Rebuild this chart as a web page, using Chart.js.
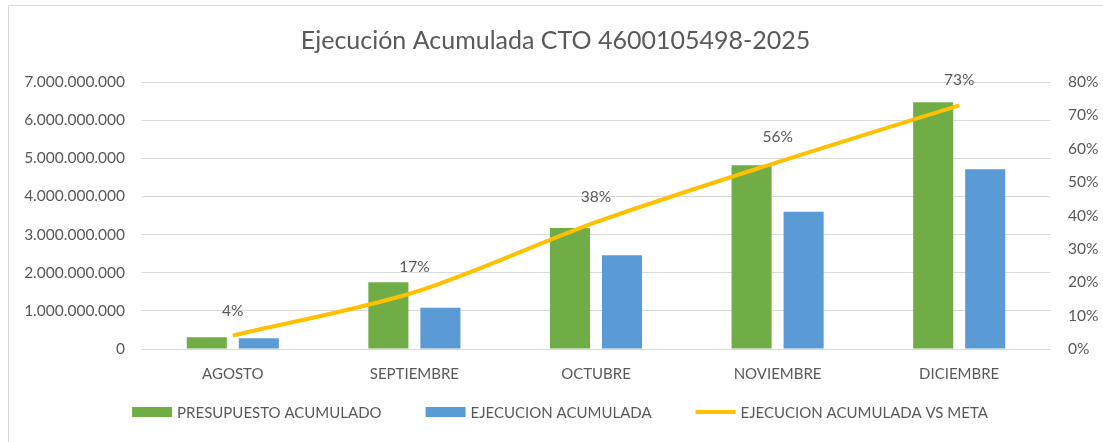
<!DOCTYPE html>
<html>
<head>
<meta charset="utf-8">
<script src="https://cdn.jsdelivr.net/npm/chart.js@4/dist/chart.umd.min.js"></script>
<style>
html,body{margin:0;padding:0;background:#fff;}
#wrap{position:relative;width:1103px;height:442px;}
#frame{position:absolute;left:8px;top:5px;width:1100px;height:440px;border-left:1px solid #d9d9d9;border-top:1px solid #d9d9d9;box-sizing:border-box;pointer-events:none;}
canvas{position:absolute;left:0;top:0;}
</style>
</head>
<body>
<div id="wrap">
<canvas id="c" width="1103" height="442"></canvas>
<div id="frame"></div>
</div>
<script>
const categories = ['AGOSTO','SEPTIEMBRE','OCTUBRE','NOVIEMBRE','DICIEMBRE'];
const presupuestoAcumulado = [310000000, 1750000000, 3170000000, 4820000000, 6470000000];
const ejecucionAcumulada = [280000000, 1080000000, 2460000000, 3600000000, 4710000000];
const ejecucionVsMeta = [0.04, 0.17, 0.38, 0.56, 0.73];
const seriesNames = ['PRESUPUESTO ACUMULADO','EJECUCION ACUMULADA','EJECUCION ACUMULADA VS META'];
const titleText = 'Ejecución Acumulada CTO 4600105498-2025';

const FONT = 'Lato, "Open Sans", sans-serif';
const GREY = '#595959';

function fmtDots(v){
  return Math.round(v).toString().replace(/\B(?=(\d{3})+(?!\d))/g,'.');
}

const dataLabels = {
  id:'dataLabels',
  afterDatasetsDraw(chart){
    const ctx = chart.ctx;
    const meta = chart.getDatasetMeta(2);
    ctx.save();
    ctx.font = '15.5px ' + FONT;
    ctx.fillStyle = GREY;
    ctx.textAlign = 'center';
    ctx.textBaseline = 'middle';
    meta.data.forEach((pt,i)=>{
      ctx.fillText(Math.round(ejecucionVsMeta[i]*100)+'%', pt.x, pt.y - 25);
    });
    ctx.restore();
  }
};

const customLegend = {
  id:'customLegend',
  afterDraw(chart){
    const ctx = chart.ctx;
    ctx.save();
    ctx.font = '15px ' + FONT;
    ctx.textBaseline = 'middle';
    const boxW = 40, gap = 5, spacing = 44;
    const ds = chart.data.datasets;
    const widths = ds.map(d => boxW + gap + ctx.measureText(d.label).width);
    const total = widths.reduce((a,b)=>a+b,0) + spacing*(ds.length-1);
    let x = 560 - total/2;
    const y = 412;
    ds.forEach((d,i)=>{
      if (d.type === 'line'){
        ctx.strokeStyle = d.borderColor;
        ctx.lineWidth = 4;
        ctx.beginPath();
        ctx.moveTo(x, y); ctx.lineTo(x+boxW, y);
        ctx.stroke();
      } else {
        ctx.fillStyle = d.backgroundColor;
        ctx.fillRect(x, y-5, boxW, 10);
      }
      ctx.fillStyle = GREY;
      ctx.textAlign = 'left';
      ctx.fillText(d.label, x+boxW+gap, y+1);
      x += widths[i] + spacing;
    });
    ctx.restore();
  }
};

new Chart(document.getElementById('c'), {
  data:{
    labels: categories,
    datasets:[
      {type:'bar', label:seriesNames[0], data:presupuestoAcumulado, backgroundColor:'#70AD47', borderWidth:0, yAxisID:'y', order:2,
       categoryPercentage:0.573, barPercentage:0.77},
      {type:'bar', label:seriesNames[1], data:ejecucionAcumulada, backgroundColor:'#5B9BD5', borderWidth:0, yAxisID:'y', order:2,
       categoryPercentage:0.573, barPercentage:0.77},
      {type:'line', label:seriesNames[2], data:ejecucionVsMeta, borderColor:'#FFC000', backgroundColor:'#FFC000', borderWidth:4,
       pointRadius:0, tension:0.3, yAxisID:'y1', order:1}
    ]
  },
  options:{
    responsive:false,
    animation:false,
    layout:{padding:{top:10,left:8,right:0,bottom:52}},
    plugins:{
      legend:{display:false},
      tooltip:{enabled:false},
      title:{display:true, text:titleText, color:GREY, font:{family:FONT, size:25, weight:'normal'}, padding:{top:16,bottom:26}}
    },
    scales:{
      x:{
        grid:{display:false, drawTicks:false},
        border:{display:false},
        ticks:{color:GREY, font:{family:FONT,size:15}, padding:16},
        afterFit(s){ s.height = 41; }
      },
      y:{
        position:'left', min:0, max:7000000000,
        grid:{color:'#d9d9d9', lineWidth:1, drawTicks:false},
        border:{display:false},
        ticks:{stepSize:1000000000, color:GREY, font:{family:FONT,size:15.5}, padding:17, callback:v=>fmtDots(v)},
        afterFit(s){ s.width = 134; }
      },
      y1:{
        position:'right', min:0, max:0.8,
        grid:{display:false, drawTicks:false},
        border:{display:false},
        ticks:{stepSize:0.1, color:GREY, font:{family:FONT,size:15.5}, padding:18, callback:v=>Math.round(v*100)+'%'},
        afterFit(s){ s.width = 53; }
      }
    }
  },
  plugins:[dataLabels, customLegend]
});
</script>
</body>
</html>
